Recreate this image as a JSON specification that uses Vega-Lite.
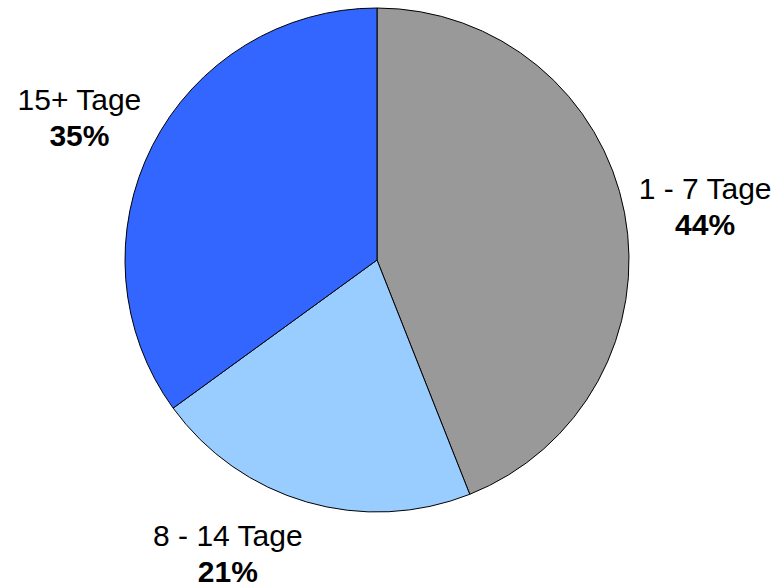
{
  "$schema": "https://vega.github.io/schema/vega-lite/v6.json",
  "width": 754,
  "height": 520,
  "autosize": "none",
  "padding": {"left": 0, "top": 0, "right": 26, "bottom": 67},
  "background": "white",
  "config": {"view": {"stroke": null}, "font": "Liberation Sans"},
  "data": {
    "values": [
      {"category": "1 - 7 Tage", "share": 0.44, "order": 1},
      {"category": "8 - 14 Tage", "share": 0.21, "order": 2},
      {"category": "15+ Tage", "share": 0.35, "order": 3}
    ]
  },
  "encoding": {
    "theta": {"field": "share", "type": "quantitative", "stack": true},
    "order": {"field": "order", "type": "quantitative"}
  },
  "layer": [
    {
      "mark": {"type": "arc", "outerRadius": 252, "stroke": "black", "strokeWidth": 1},
      "encoding": {
        "color": {
          "field": "category",
          "type": "nominal",
          "scale": {
            "domain": ["1 - 7 Tage", "8 - 14 Tage", "15+ Tage"],
            "range": ["#999999", "#99CCFF", "#3366FF"]
          },
          "legend": null
        }
      }
    },
    {
      "mark": {"type": "text", "radius": 334, "dy": -7, "fontSize": 30, "baseline": "middle", "align": "center", "color": "black"},
      "encoding": {
        "text": {"condition": {"test": "datum.category !== '8 - 14 Tage'", "field": "category", "type": "nominal"}, "value": ""}
      }
    },
    {
      "mark": {"type": "text", "radius": 334, "dy": 29, "fontSize": 30, "fontWeight": "bold", "baseline": "middle", "align": "center", "color": "black"},
      "encoding": {
        "text": {"condition": {"test": "datum.category !== '8 - 14 Tage'", "field": "share", "type": "quantitative", "format": ".0%"}, "value": ""}
      }
    },
    {
      "mark": {"type": "text", "radius": 334, "dx": -56, "dy": -44, "fontSize": 30, "baseline": "middle", "align": "center", "color": "black"},
      "encoding": {
        "text": {"condition": {"test": "datum.category === '8 - 14 Tage'", "field": "category", "type": "nominal"}, "value": ""}
      }
    },
    {
      "mark": {"type": "text", "radius": 334, "dx": -56, "dy": -8, "fontSize": 30, "fontWeight": "bold", "baseline": "middle", "align": "center", "color": "black"},
      "encoding": {
        "text": {"condition": {"test": "datum.category === '8 - 14 Tage'", "field": "share", "type": "quantitative", "format": ".0%"}, "value": ""}
      }
    }
  ]
}
